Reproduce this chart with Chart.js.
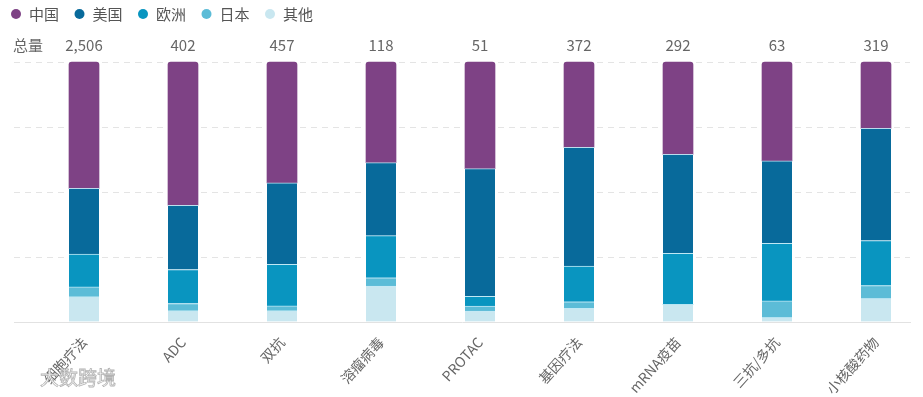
<!DOCTYPE html>
<html>
<head>
<meta charset="utf-8">
<script src="https://cdn.jsdelivr.net/npm/chart.js@4"></script>
<style>
  body { margin: 0; background: #fff; }
  #wrap { width: 923px; height: 397px; position: relative; }
</style>
</head>
<body>
<div id="wrap"><canvas id="chart-share"></canvas></div>
<script>
const categories = ['细胞疗法', 'ADC', '双抗', '溶瘤病毒', 'PROTAC', '基因疗法', 'mRNA疫苗', '三抗/多抗', '小核酸药物'];
const totals = [2506, 402, 457, 118, 51, 372, 292, 63, 319];

// share of each region, percent
const china  = [48.6, 55.1, 46.5, 38.7, 41.0, 32.8, 35.5, 38.0, 25.5];
const usa    = [25.3, 24.7, 31.3, 28.1, 49.1, 45.7, 38.1, 31.7, 43.2];
const europe = [12.6, 13.1, 16.0, 16.2, 3.8, 13.7, 19.6, 22.2, 17.3];
const japan  = [3.8, 2.8, 1.9, 3.2, 1.9, 2.5, 0, 6.4, 5.0];
const other  = [9.7, 4.3, 4.3, 13.8, 4.2, 5.3, 6.8, 1.7, 9.0];

const legendNames = ['中国', '美国', '欧洲', '日本', '其他'];
const colors = ['#7e4285', '#086a9b', '#0995c0', '#5cbcd7', '#c9e7f0'];

const font = '"Noto Sans CJK SC", "Noto Sans", sans-serif';
const ctx = document.getElementById('chart-share');

function points(arr) {
    return arr.map(function (v, i) { return { x: i, y: v }; });
}

function makeSet(label, arr, color, top) {
    return {
        label: label,
        data: points(arr),
        backgroundColor: color,
        borderColor: 'rgba(190, 232, 245, 0.9)',
        borderWidth: top ? 0 : { top: 1, left: 0, right: 0, bottom: 0 },
        borderRadius: top ? { topLeft: 3, topRight: 3, bottomLeft: 0, bottomRight: 0 } : 0,
        borderSkipped: 'start',
        barThickness: 30,
        clip: false
    };
}

// legend, totals row and watermark drawn on canvas
const extras = {
    id: 'extras',
    afterDraw: function (chart) {
        const c = chart.ctx;
        const xs = chart.scales.x;
        c.save();
        c.textBaseline = 'middle';
        c.font = '15px ' + font;
        legendNames.forEach(function (name, i) {
            const cx = 16 + i * 63.5;
            c.beginPath();
            c.arc(cx, 14, 5, 0, Math.PI * 2);
            c.fillStyle = colors[i];
            c.fill();
            c.fillStyle = '#555';
            c.textAlign = 'left';
            c.fillText(name, cx + 13, 14);
        });

        c.fillStyle = '#666';
        c.textAlign = 'left';
        c.fillText('总量', 13, 45);
        c.textAlign = 'center';
        totals.forEach(function (t, i) {
            c.fillText(t.toLocaleString('en-US'), xs.getPixelForValue(i), 45);
        });

        c.font = '19px ' + font;
        c.textAlign = 'left';
        c.lineWidth = 0.8;
        c.strokeStyle = 'rgba(160,160,160,0.8)';
        c.fillStyle = 'rgba(255,255,255,0.9)';
        c.fillText('大数跨境', 40, 378);
        c.strokeText('大数跨境', 40, 378);
        c.restore();
    }
};

new Chart(ctx, {
    type: 'bar',
    data: {
        datasets: [
            makeSet('其他', other, colors[4]),
            makeSet('日本', japan, colors[3]),
            makeSet('欧洲', europe, colors[2]),
            makeSet('美国', usa, colors[1]),
            makeSet('中国', china, colors[0], true)
        ]
    },
    options: {
        responsive: true,
        maintainAspectRatio: false,
        animation: false,
        layout: {
            padding: { left: 14, right: 13, top: 62, bottom: 0 }
        },
        plugins: {
            legend: { display: false },
            tooltip: { enabled: false }
        },
        scales: {
            x: {
                type: 'linear',
                stacked: true,
                offset: false,
                min: -70 / 99,
                max: 8 + 34 / 99,
                afterBuildTicks: function (scale) {
                    scale.ticks = categories.map(function (c, i) { return { value: i }; });
                },
                afterFit: function (scale) {
                    scale.height = 75;
                },
                grid: { display: false },
                border: { display: true, color: '#e2e2e2', width: 1 },
                ticks: {
                    autoSkip: false,
                    minRotation: 48,
                    maxRotation: 48,
                    padding: 4,
                    color: '#666',
                    font: { family: font, size: 14 },
                    callback: function (value) { return categories[value]; }
                }
            },
            y: {
                stacked: true,
                min: 0,
                max: 100,
                ticks: { display: false, stepSize: 25 },
                grid: { color: '#e4e4e4', drawTicks: false, lineWidth: 1 },
                border: { display: false, dash: [6, 5] }
            }
        }
    },
    plugins: [extras]
});
</script>
</body>
</html>
